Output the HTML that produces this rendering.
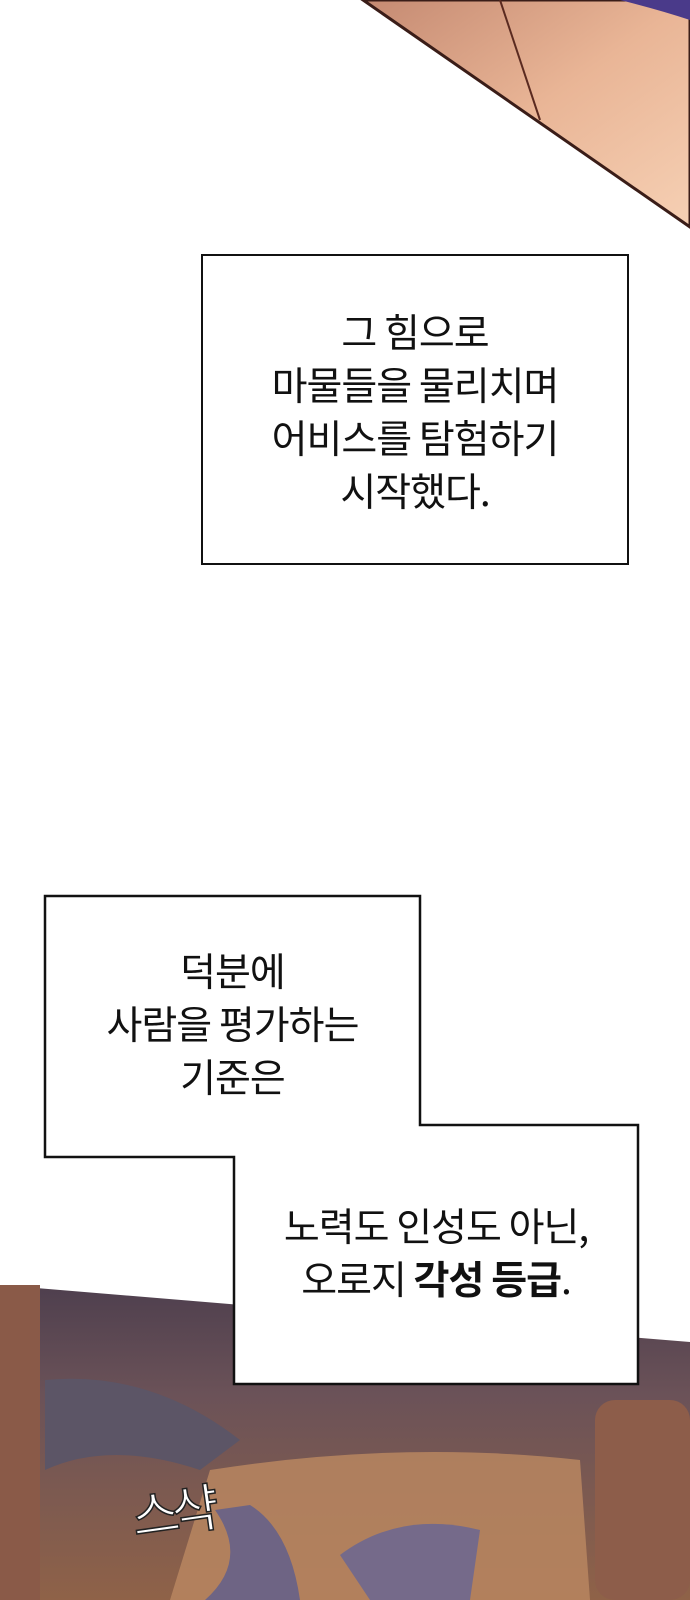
<!DOCTYPE html>
<html><head><meta charset="utf-8"><style>
html,body{margin:0;padding:0;background:#fff}
body{width:690px;height:1600px;position:relative;overflow:hidden;font-family:"Liberation Sans","Noto Sans CJK KR","NanumGothic",sans-serif}
svg{position:absolute;left:0;top:0}
.t{position:absolute;text-align:center;font-size:39px;line-height:53px;color:#111;font-family:"Noto Sans CJK KR","NanumGothic",sans-serif;white-space:nowrap;letter-spacing:-1px}
</style></head><body>
<svg width="690" height="1600">
<defs>
<linearGradient id="g1" x1="0" y1="0" x2="1" y2="1"><stop offset="0" stop-color="#c58a72"/><stop offset="0.5" stop-color="#e9b596"/><stop offset="1" stop-color="#f6d0b4"/></linearGradient>
<linearGradient id="g2" x1="0" y1="0" x2="0" y2="1"><stop offset="0" stop-color="#4e3f4e"/><stop offset="0.35" stop-color="#6b5258"/><stop offset="1" stop-color="#8f6248"/></linearGradient>
</defs>
<polygon points="363,0 690,0 690,227" fill="url(#g1)" stroke="#3a1d18" stroke-width="3"/>
<path d="M620,0 Q660,10 690,20 L690,0Z" fill="#4a3a8a"/>
<path d="M500,0 Q520,60 540,120" stroke="#5a2a20" stroke-width="2" fill="none"/>
<polygon points="0,1285 690,1342 690,1600 0,1600" fill="url(#g2)"/>
<rect x="0" y="1285" width="40" height="315" fill="#8a5a48"/>
<rect x="595" y="1400" width="95" height="200" fill="#8d5d4a" rx="20"/>
<path d="M210,1470 Q400,1440 580,1460 L590,1600 L170,1600Z" fill="#b98660" opacity="0.85"/>
<path d="M215,1510 Q250,1560 205,1600 L300,1600 Q290,1530 250,1505Z" fill="#6e6484"/>
<path d="M340,1555 Q400,1510 480,1530 L470,1600 L370,1600Z" fill="#756a8a"/>
<path d="M45,1380 Q150,1370 240,1440 L200,1470 Q110,1440 45,1470Z" fill="#5c5566"/>
<text x="130" y="1530" font-size="52" fill="#fff" stroke="#222" stroke-width="1.5" font-family="Noto Sans CJK KR,sans-serif" transform="rotate(-8 180 1500)" style="letter-spacing:-8px">스샥</text>
</svg>
<div style="position:absolute;left:201px;top:254px;width:424px;height:307px;border:2px solid #111;background:#fff"></div>
<div class="t" style="left:201px;top:305px;width:428px">그 힘으로<br>마물들을 물리치며<br>어비스를 탐험하기<br>시작했다.</div>
<svg width="690" height="1600" style="pointer-events:none">
<polygon points="45,896 420,896 420,1125 638,1125 638,1384 234,1384 234,1157 45,1157" fill="#fff" stroke="#111" stroke-width="2.5"/>
</svg>
<div class="t" style="left:45px;top:944px;width:375px">덕분에<br>사람을 평가하는<br>기준은</div>
<div class="t" style="left:234px;top:1199px;width:404px">노력도 인성도 아닌,<br>오로지 <b>각성 등급</b>.</div>
</body></html>
